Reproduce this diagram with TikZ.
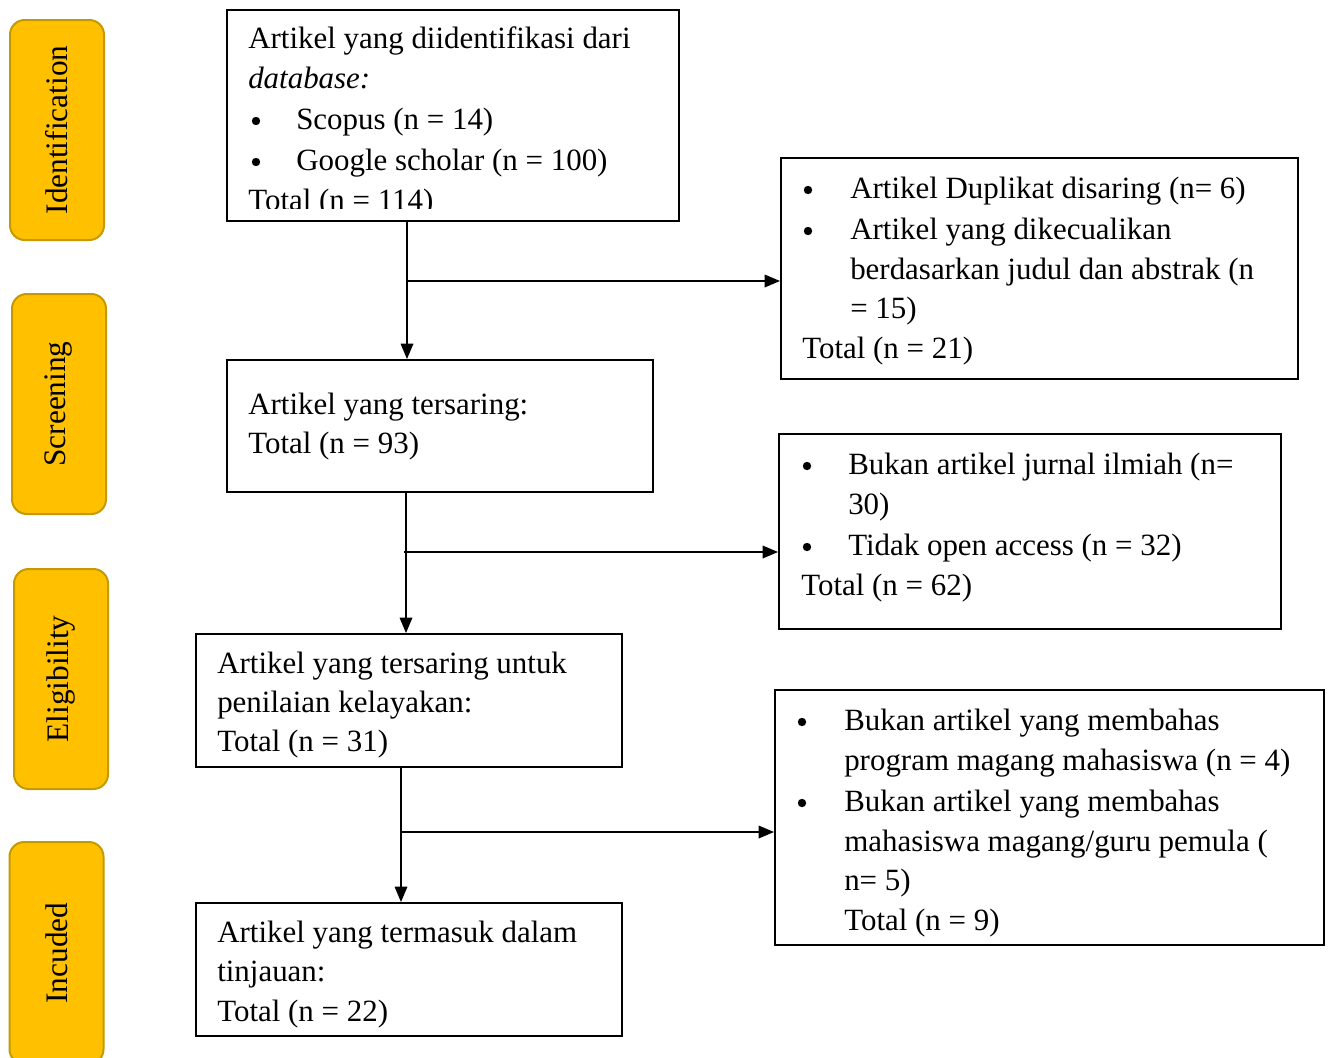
\documentclass[tikz,border=0pt]{standalone}
\usepackage{fontspec}
\setmainfont{Liberation Serif}
\usetikzlibrary{arrows.meta}
\definecolor{labfill}{HTML}{FFC000}
\definecolor{labdraw}{HTML}{C49A00}
\begin{document}
\begin{tikzpicture}[x=0.75pt,y=-0.75pt,
  boxnode/.style={draw, line width=1.5pt, inner sep=0pt},
  lab/.style={draw=labdraw, fill=labfill, line width=1.5pt, rounded corners=11pt,
    rotate=90, minimum width=165pt, minimum height=70.5pt, inner sep=0pt,
    font=\fontsize{23.5}{28}\selectfont},
  txt/.style={anchor=base west, inner sep=0pt, font=\fontsize{23.2}{27}\selectfont},
  bul/.style={circle, fill=black, inner sep=0pt, minimum size=6.3pt},
  conn/.style={line width=0.9pt, -{Triangle[length=11.5pt,width=9.5pt]}}]
\useasboundingbox (0,0) rectangle (1331,1057);

% stage labels
\node[lab] (l1) at (57,130) {Identification};
\node[lab] (l2) at (59,404) {Screening};
\node[lab] (l3) at (61,679) {Eligibility};
\node[lab, minimum width=166.5pt] (l4) at (56.5,953) {Incuded};

% main boxes
\node[boxnode, minimum width=339pt, minimum height=158.25pt] (b1) at (453,115.5) {};
\node[boxnode, minimum width=319.5pt, minimum height=99pt] (b2) at (440,426) {};
\node[boxnode, minimum width=319.5pt, minimum height=99.75pt] (b3) at (409,700.5) {};
\node[boxnode, minimum width=319.5pt, minimum height=99.75pt] (b4) at (409,969.5) {};
\node[boxnode, minimum width=387.75pt, minimum height=165.75pt] (r1) at (1039.5,268.5) {};
\node[boxnode, minimum width=376.5pt, minimum height=146.25pt] (r2) at (1030,531.5) {};
\node[boxnode, minimum width=411.75pt, minimum height=191.25pt] (r3) at (1049.5,817.5) {};

% box 1 text
\node[txt] (t11) at (248,48) {Artikel yang diidentifikasi dari};
\node[txt] (t12) at (248,88) {\itshape database:};
\node[bul] (u11) at (256,121) {};
\node[txt] (t13) at (296,129) {Scopus (n = 14)};
\node[bul] (u12) at (256,162) {};
\node[txt] (t14) at (296,170) {Google scholar (n = 100)};
\begin{scope}
\clip (228,11) rectangle (678,208);
\node[txt] (t15) at (248,210) {Total (n = 114)};
\end{scope}

% box 2 text
\node[txt] (t21) at (248,414) {Artikel yang tersaring:};
\node[txt] (t22) at (248,453) {Total (n = 93)};

% box 3 text
\node[txt] (t31) at (217,673) {Artikel yang tersaring untuk};
\node[txt] (t32) at (217,712) {penilaian kelayakan:};
\node[txt] (t33) at (217,751) {Total (n = 31)};

% box 4 text
\node[txt] (t41) at (217,942) {Artikel yang termasuk dalam};
\node[txt] (t42) at (217,981) {tinjauan:};
\node[txt] (t43) at (217,1021) {Total (n = 22)};

% right box 1 text
\node[bul] (v11) at (808,190) {};
\node[txt] (s11) at (850,198) {Artikel Duplikat disaring (n= 6)};
\node[bul] (v12) at (808,231) {};
\node[txt] (s12) at (850,239) {Artikel yang dikecualikan};
\node[txt] (s13) at (850,279) {berdasarkan judul dan abstrak (n};
\node[txt] (s14) at (850,318) {= 15)};
\node[txt] (s15) at (802,358) {Total (n = 21)};

% right box 2 text
\node[bul] (v21) at (807,466) {};
\node[txt] (s21) at (848,474) {Bukan artikel jurnal ilmiah (n=};
\node[txt] (s22) at (848,514) {30)};
\node[bul] (v22) at (807,547) {};
\node[txt] (s23) at (848,555) {Tidak open access (n = 32)};
\node[txt] (s24) at (801,595) {Total (n = 62)};

% right box 3 text
\node[bul] (v31) at (802,722) {};
\node[txt] (s31) at (844,730) {Bukan artikel yang membahas};
\node[txt] (s32) at (844,770) {program magang mahasiswa (n = 4)};
\node[bul] (v32) at (802,803) {};
\node[txt] (s33) at (844,811) {Bukan artikel yang membahas};
\node[txt] (s34) at (844,851) {mahasiswa magang/guru pemula (};
\node[txt] (s35) at (844,890) {n= 5)};
\node[txt] (s36) at (844,930) {Total (n = 9)};

% connectors
\coordinate (j1) at (407,281);
\coordinate (j2) at (406,552);
\coordinate (j2s) at (404,552);
\coordinate (j3) at (401,832);
\draw[conn] (b1.south -| j1) -- (b2.north -| j1);
\draw[conn] (j1) -- (r1.west |- j1);
\draw[conn] (b2.south -| j2) -- (b3.north -| j2);
\draw[conn] (j2s) -- (r2.west |- j2s);
\draw[conn] (b3.south -| j3) -- (b4.north -| j3);
\draw[conn] (j3) -- (r3.west |- j3);
\end{tikzpicture}
\end{document}
